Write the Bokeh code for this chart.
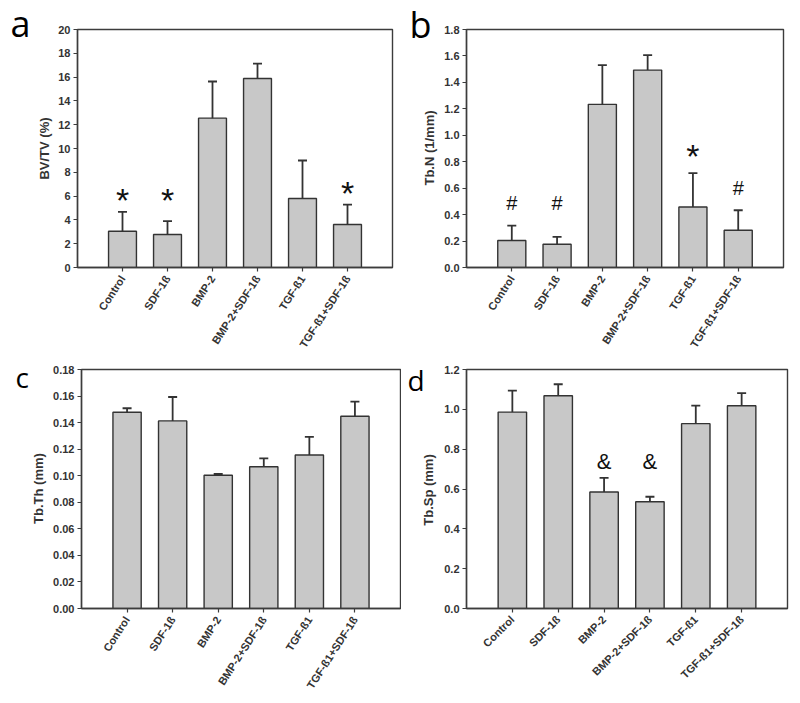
import math
from bokeh.plotting import figure
from bokeh.layouts import row, column
from bokeh.models import FactorRange, Range1d, FixedTicker, Label, ColumnDataSource, NumeralTickFormatter
from bokeh.core.properties import value
from bokeh.embed import file_html
from bokeh.resources import INLINE

categories = ["Control", "SDF-1ß", "BMP-2", "BMP-2+SDF-1ß", "TGF-ß1", "TGF-ß1+SDF-1ß"]

# Panel a: BV/TV (%)
bvtv_mean = [3.05, 2.77, 12.55, 15.88, 5.80, 3.61]
bvtv_upper = [4.68, 3.89, 15.63, 17.14, 8.99, 5.29]
bvtv_ticks = [0, 2, 4, 6, 8, 10, 12, 14, 16, 18, 20]
bvtv_sig_cats = ["Control", "SDF-1ß", "TGF-ß1+SDF-1ß"]
bvtv_sig_text = ["*", "*", "*"]
bvtv_sig_y = [6.6, 6.6, 7.2]

# Panel b: Tb.N (1/mm)
tbn_mean = [0.204, 0.176, 1.234, 1.493, 0.458, 0.282]
tbn_upper = [0.316, 0.231, 1.531, 1.606, 0.714, 0.433]
tbn_ticks = [0.0, 0.2, 0.4, 0.6, 0.8, 1.0, 1.2, 1.4, 1.6, 1.8]
tbn_sig_cats = ["Control", "SDF-1ß", "TGF-ß1", "TGF-ß1+SDF-1ß"]
tbn_sig_text = ["#", "#", "*", "#"]
tbn_sig_y = [0.49, 0.49, 0.93, 0.60]

# Panel c: Tb.Th (mm)
tbth_mean = [0.1478, 0.1413, 0.1004, 0.1068, 0.1156, 0.1448]
tbth_upper = [0.1508, 0.1593, 0.1013, 0.1131, 0.1293, 0.1558]
tbth_ticks = [0.00, 0.02, 0.04, 0.06, 0.08, 0.10, 0.12, 0.14, 0.16, 0.18]

# Panel d: Tb.Sp (mm)
tbsp_mean = [0.986, 1.068, 0.585, 0.536, 0.928, 1.018]
tbsp_upper = [1.094, 1.126, 0.656, 0.561, 1.019, 1.081]
tbsp_ticks = [0.0, 0.2, 0.4, 0.6, 0.8, 1.0, 1.2]
tbsp_sig_cats = ["BMP-2", "BMP-2+SDF-1ß"]
tbsp_sig_text = ["&", "&"]
tbsp_sig_y = [0.737, 0.737]

DARK = "#333333"
LINE = "#3c3c3c"
BAR = "#c8c8c8"
FONT = "Liberation Sans"
SYM_SIZE = {"*": "34px", "#": "20px", "&": "22px"}
SYM_OFF = {"*": 11, "#": 0, "&": 0}


def make_panel(letter, ylabel, means, uppers, ticks, fmt, sig_cats, sig_text, sig_y,
               width, height, left, right, top, bottom, angle_deg,
               letter_pos, letter_size, ylabel_pos):
    p = figure(width=width, height=height,
               x_range=FactorRange(*categories, range_padding=0.5, range_padding_units="absolute"),
               y_range=Range1d(ticks[0], ticks[-1]),
               output_backend="svg", toolbar_location=None,
               min_border_left=left, min_border_right=right,
               min_border_top=top, min_border_bottom=bottom)
    p.background_fill_color = "white"
    p.border_fill_color = "white"
    p.outline_line_color = LINE
    p.outline_line_width = 1.4
    p.xgrid.visible = False
    p.ygrid.visible = False

    src = ColumnDataSource(dict(cat=categories, mean=means, upper=uppers))
    p.vbar(x="cat", top="mean", bottom=0, width=0.62, source=src,
           fill_color=BAR, line_color=DARK, line_width=1.4)
    p.segment(x0="cat", y0="mean", x1="cat", y1="upper", source=src,
              line_color=DARK, line_width=1.8)
    p.scatter(x="cat", y="upper", source=src, marker="dash", size=9,
              line_color=DARK, line_width=1.8)

    for sym in sorted(set(sig_text)):
        idx = [i for i, s in enumerate(sig_text) if s == sym]
        sub = ColumnDataSource(dict(cat=[sig_cats[i] for i in idx],
                                    y=[sig_y[i] for i in idx],
                                    t=[sig_text[i] for i in idx]))
        p.text(x="cat", y="y", text="t", source=sub,
               text_font=value(FONT), text_font_size=SYM_SIZE[sym],
               text_align="center", text_baseline="middle",
               text_color="#111111", y_offset=SYM_OFF[sym])

    for ax in (p.xaxis[0], p.yaxis[0]):
        ax.axis_line_color = LINE
        ax.axis_line_width = 1.4
        ax.major_tick_line_color = LINE
        ax.major_tick_line_width = 1.2
        ax.major_tick_in = 0
        ax.major_tick_out = 4
        ax.minor_tick_line_color = None
        ax.major_label_text_font = FONT
        ax.major_label_text_font_style = "bold"
        ax.major_label_text_font_size = "11px"
        ax.major_label_text_color = DARK
    p.yaxis.ticker = FixedTicker(ticks=ticks)
    p.yaxis.formatter = NumeralTickFormatter(format=fmt)
    p.yaxis.major_label_standoff = 3
    p.xaxis.major_label_orientation = math.radians(angle_deg)
    p.xaxis.major_label_standoff = 5

    # y-axis title, drawn in the left side panel
    p.add_layout(Label(x=ylabel_pos[0], y=ylabel_pos[1], x_units="canvas", y_units="canvas",
                       text=ylabel, text_font=FONT, text_font_style="bold",
                       text_font_size="13px", text_color=DARK, angle=math.pi / 2,
                       text_align="center", text_baseline="middle"), "left")
    # panel letter
    p.add_layout(Label(x=letter_pos[0], y=letter_pos[1], x_units="canvas", y_units="canvas",
                       text=letter, text_font="Open Sans", text_font_size=letter_size,
                       text_color="#000000", text_align="left",
                       text_baseline="middle"), "left")
    return p


pa = make_panel("a", "BV/TV (%)", bvtv_mean, bvtv_upper, bvtv_ticks, "0",
                bvtv_sig_cats, bvtv_sig_text, bvtv_sig_y,
                400, 358, 77, 8, 29, 91, 57, (10, 23), "36px", (43.5, 148))
pb = make_panel("b", "Tb.N (1/mm)", tbn_mean, tbn_upper, tbn_ticks, "0.0",
                tbn_sig_cats, tbn_sig_text, tbn_sig_y,
                400, 358, 66, 17, 28, 91, 57, (9, 24), "36px", (29, 147.5))
pc = make_panel("c", "Tb.Th (mm)", tbth_mean, tbth_upper, tbth_ticks, "0.00",
                [], [], [],
                401, 345, 81, 1, 10, 95, 57, (15, 18), "28px", (37.5, 130))
pd = make_panel("d", "Tb.Sp (mm)", tbsp_mean, tbsp_upper, tbsp_ticks, "0.0",
                tbsp_sig_cats, tbsp_sig_text, tbsp_sig_y,
                399, 345, 65, 13, 11, 93, 45, (6, 21), "28px", (27, 131.5))

layout = column(row(pa, pb), row(pc, pd))
open("out.html", "w").write(file_html(layout, INLINE))
